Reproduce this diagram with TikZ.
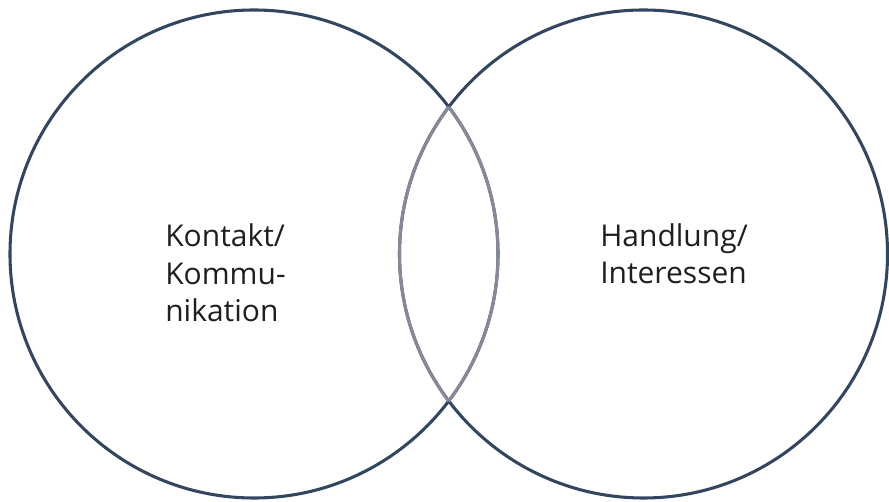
\documentclass[tikz,border=0pt]{standalone}
\usepackage{fontspec}
\setmainfont{Open Sans}
\definecolor{ringblue}{RGB}{50,70,95}
\definecolor{lensgray}{RGB}{135,137,152}
\begin{document}
\begin{tikzpicture}[x=0.75pt,y=0.75pt,
  ring/.style={line width=2.3pt,draw=ringblue},
  lens/.style={line width=2.3pt,draw=lensgray},
  label/.style={align=left,inner sep=0pt,font=\fontsize{22.5}{28}\selectfont,text=black!88}]
\useasboundingbox (0,0) rectangle (889,502);
% two rings, r = 244, overlap in the middle
\coordinate (lc) at (254,248); \coordinate (rc) at (643.5,248);
\draw[ring] (lc) circle (244); \draw[ring] (rc) circle (244);
\begin{scope} \clip (lc) circle (244); \draw[lens] (rc) circle (244); \end{scope}
\begin{scope} \clip (rc) circle (244); \draw[lens] (lc) circle (244); \end{scope}
\node[label] (kontakt) at (225.5,229) {Kontakt/\\Kommu-\\nikation};
\node[label] (handlung) at (674,248) {Handlung/\\Interessen};
\end{tikzpicture}
\end{document}
